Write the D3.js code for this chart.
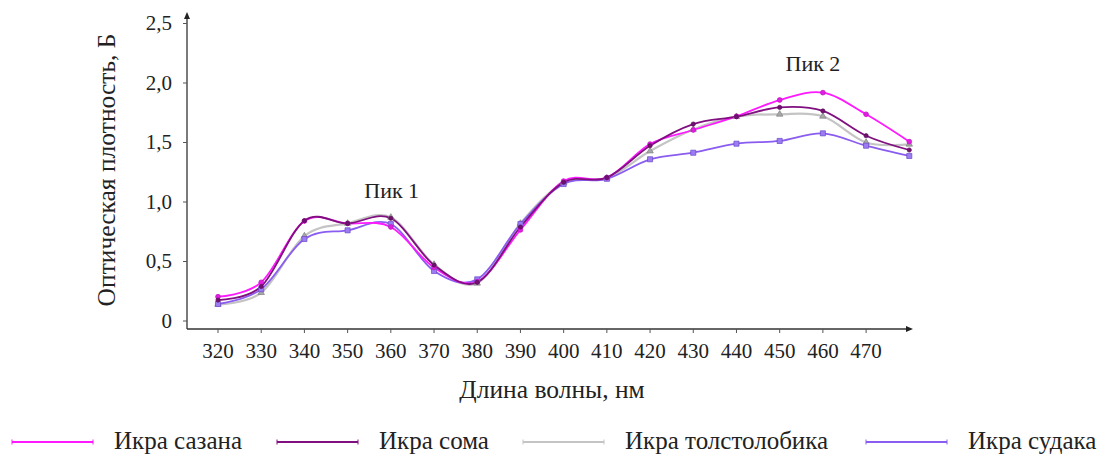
<!DOCTYPE html>
<html><head><meta charset="utf-8">
<script src="https://cdn.jsdelivr.net/npm/d3@7"></script>
<style>
html,body{margin:0;padding:0;background:#fff;}
text{font-family:"Liberation Serif","Times New Roman",serif;fill:#222;}
</style></head>
<body><svg id="c" width="1105" height="457"></svg>
<script>
// ---- data ----
const wavelengths = [320,330,340,350,360,370,380,390,400,410,420,430,440,450,460,470,480];
const xTickLabels = [320,330,340,350,360,370,380,390,400,410,420,430,440,450,460,470];
const yTickValues = [0,0.5,1.0,1.5,2.0,2.5];
const yTickLabels = ["0","0,5","1,0","1,5","2,0","2,5"];
const seriesNames = ["Икра сазана","Икра сома","Икра толстолобика","Икра судака"];
const sazan  = [0.204,0.325,0.84,0.82,0.79,0.45,0.33,0.765,1.176,1.205,1.487,1.605,1.72,1.857,1.919,1.737,1.507];
const som    = [0.176,0.29,0.843,0.82,0.863,0.47,0.325,0.79,1.165,1.205,1.473,1.655,1.717,1.795,1.765,1.557,1.437];
const tolst  = [0.14,0.238,0.714,0.82,0.871,0.475,0.317,0.82,1.162,1.2,1.428,1.61,1.717,1.737,1.72,1.50,1.485];
const sudak  = [0.143,0.267,0.689,0.762,0.815,0.42,0.35,0.815,1.151,1.195,1.359,1.414,1.49,1.513,1.577,1.473,1.387];
const peaks = [{label:"Пик 1", x:360.2, y:1.03},{label:"Пик 2", x:457.7, y:2.1}];

// ---- styles ----
const colors = ["#ff19ff","#80107f","#c4c4c4","#8a5cf0"];
const markerFill = ["#e020e0","#70106f","#a8a8a8","#9b7cf2"];
const markerStroke = ["#c010c0","#5a0a5a","#808080","#6a48c8"];
const symbols = [d3.symbolCircle,d3.symbolCircle,d3.symbolTriangle,d3.symbolSquare];
const symSize = [18,14,18,26];
const allSeries = [sazan,som,tolst,sudak];

const svg = d3.select("#c");
const x = d3.scaleLinear().domain([320,480]).range([218,909.3]);
const y = d3.scaleLinear().domain([0,2.5]).range([321,23.5]);
const axX = 187, axY = 329, axRight = 913, axTop = 12;

// axes
svg.append("line").attr("x1",axX).attr("x2",axRight-4).attr("y1",axY).attr("y2",axY).attr("stroke","#333").attr("stroke-width",1.3);
svg.append("path").attr("d",`M${axRight},${axY} L${axRight-7},${axY-3} L${axRight-7},${axY+3}Z`).attr("fill","#222");
svg.append("line").attr("x1",axX).attr("x2",axX).attr("y1",axY).attr("y2",axTop+4).attr("stroke","#333").attr("stroke-width",1.3);
svg.append("path").attr("d",`M${axX},${axTop} L${axX-3},${axTop+7} L${axX+3},${axTop+7}Z`).attr("fill","#222");

// x ticks
const xa = svg.append("g");
xa.selectAll("line").data(xTickLabels).join("line")
  .attr("x1",d=>x(d)).attr("x2",d=>x(d)).attr("y1",axY).attr("y2",axY+4).attr("stroke","#555");
xa.selectAll("text").data(xTickLabels).join("text")
  .attr("x",d=>x(d)).attr("y",358).attr("text-anchor","middle").attr("font-size",21).text(d=>d);
// y ticks
const ya = svg.append("g");
ya.selectAll("line").data(yTickValues).join("line")
  .attr("x1",axX-4).attr("x2",axX).attr("y1",d=>y(d)).attr("y2",d=>y(d)).attr("stroke","#555");
ya.selectAll("text").data(yTickValues).join("text")
  .attr("x",172).attr("y",d=>y(d)).attr("dy","0.33em").attr("text-anchor","end").attr("font-size",21)
  .text((d,i)=>yTickLabels[i]);

// titles
svg.append("text").attr("transform","translate(115,170) rotate(-90)").attr("text-anchor","middle")
  .attr("font-size",25.5).text("Оптическая плотность, Б");
svg.append("text").attr("x",552).attr("y",398).attr("text-anchor","middle").attr("font-size",25.5).text("Длина волны, нм");

// lines
const line = d3.line().x((d,i)=>x(wavelengths[i])).y(d=>y(d)).curve(d3.curveCatmullRom.alpha(0));
const drawOrder = [2,3,0,1];
drawOrder.forEach(k=>{
  svg.append("path").datum(allSeries[k]).attr("d",line).attr("fill","none")
    .attr("stroke",colors[k]).attr("stroke-width",k===2?2.2:1.8);
});
drawOrder.forEach(k=>{
  svg.append("g").selectAll("path").data(allSeries[k]).join("path")
    .attr("transform",(d,i)=>`translate(${x(wavelengths[i])},${y(d)})`)
    .attr("d",d3.symbol().type(symbols[k]).size(symSize[k]))
    .attr("fill",markerFill[k]).attr("stroke",markerStroke[k]).attr("stroke-width",0.7);
});

// annotations
svg.selectAll(".pk").data(peaks).join("text").attr("class","pk")
  .attr("x",d=>x(d.x)).attr("y",d=>y(d.y)).attr("text-anchor","middle").attr("font-size",22).text(d=>d.label);

// legend
const legendX = [12,277,523,866];
const lg = svg.append("g");
seriesNames.forEach((name,k)=>{
  const lx = legendX[k], ly = 442, len = 81;
  lg.append("line").attr("x1",lx).attr("x2",lx+len).attr("y1",ly).attr("y2",ly).attr("stroke",colors[k]).attr("stroke-width",2);
  [lx,lx+len].forEach(px=>lg.append("line").attr("x1",px).attr("x2",px).attr("y1",ly-2.5).attr("y2",ly+2.5).attr("stroke",colors[k]).attr("stroke-width",1));
  lg.append("text").attr("x",lx+len+21).attr("y",449).attr("font-size",25).text(name);
});
</script></body></html>
